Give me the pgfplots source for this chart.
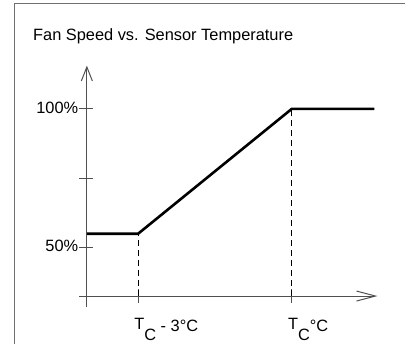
\documentclass[border=0pt]{standalone}
\usepackage{fontspec}
\setmainfont{Liberation Sans}
\usepackage{pgfplots}
\pgfplotsset{compat=1.18}
\usetikzlibrary{arrows.meta}
\definecolor{axgray}{HTML}{505050}
\definecolor{framegray}{HTML}{707070}
\begin{document}
\fontsize{16.4bp}{19.7bp}\selectfont
\begin{tikzpicture}
\begin{axis}[
  width=406bp, height=345bp, scale only axis,
  xmin=-5.695, xmax=2.215, ymin=15.11, ymax=139.21,
  hide axis, clip=false,
]
\path (axis cs:-5.695,15.11) rectangle (axis cs:2.215,139.21);
% frame (top and left edges visible)
\draw[framegray, line width=1.3bp] (axis cs:-5.408,15.11) -- (axis cs:-5.408,137.95) -- (axis cs:2.215,137.95);
% axes
\draw[axgray, line width=1bp, -{Straight Barb[length=19bp,width=10bp]}] (axis cs:-4.155,32.55) -- (axis cs:1.67,32.55);
\draw[axgray, line width=1bp, -{Straight Barb[length=14bp,width=11bp]}] (axis cs:-4,28.78) -- (axis cs:-4,115.58);
% y ticks
\draw[axgray, line width=1bp] (axis cs:-4.146,50) -- (axis cs:-3.873,50);
\draw[axgray, line width=1bp] (axis cs:-4.146,75) -- (axis cs:-3.873,75);
\draw[axgray, line width=1bp] (axis cs:-4.146,100) -- (axis cs:-3.873,100);
% x ticks
\draw[axgray, line width=1bp] (axis cs:-3,35.07) -- (axis cs:-3,30.04);
\draw[axgray, line width=1bp] (axis cs:0,35.07) -- (axis cs:0,30.04);
% dashed guides
\addplot[black, line width=0.9bp, dash pattern=on 6bp off 4bp] coordinates {(-3,32.55) (-3,55)};
\addplot[black, line width=0.9bp, dash pattern=on 6bp off 4bp] coordinates {(0,32.55) (0,100)};
% fan speed curve
\addplot[black, line width=2.6bp, line join=miter] coordinates {(-4,55) (-3,55) (0,100) (1.61,100)};
% labels
\node[anchor=base east, inner sep=0] at (axis cs:-4.165,98.49) {100\%};
\node[anchor=base east, inner sep=0] at (axis cs:-4.165,48.49) {50\%};
\node[anchor=base west, inner sep=0] at (axis cs:-3.078,20.5) {T\lower11bp\hbox{C}\lower2bp\hbox{\ - 3°C}};
\node[anchor=base west, inner sep=0] at (axis cs:-0.078,20.5) {T\lower11bp\hbox{C}\lower2bp\hbox{°C}};
\node[anchor=base west, inner sep=0] at (axis cs:-5.052,124.57) {Fan Speed vs. Sensor Temperature};
\end{axis}
\end{tikzpicture}
\end{document}
